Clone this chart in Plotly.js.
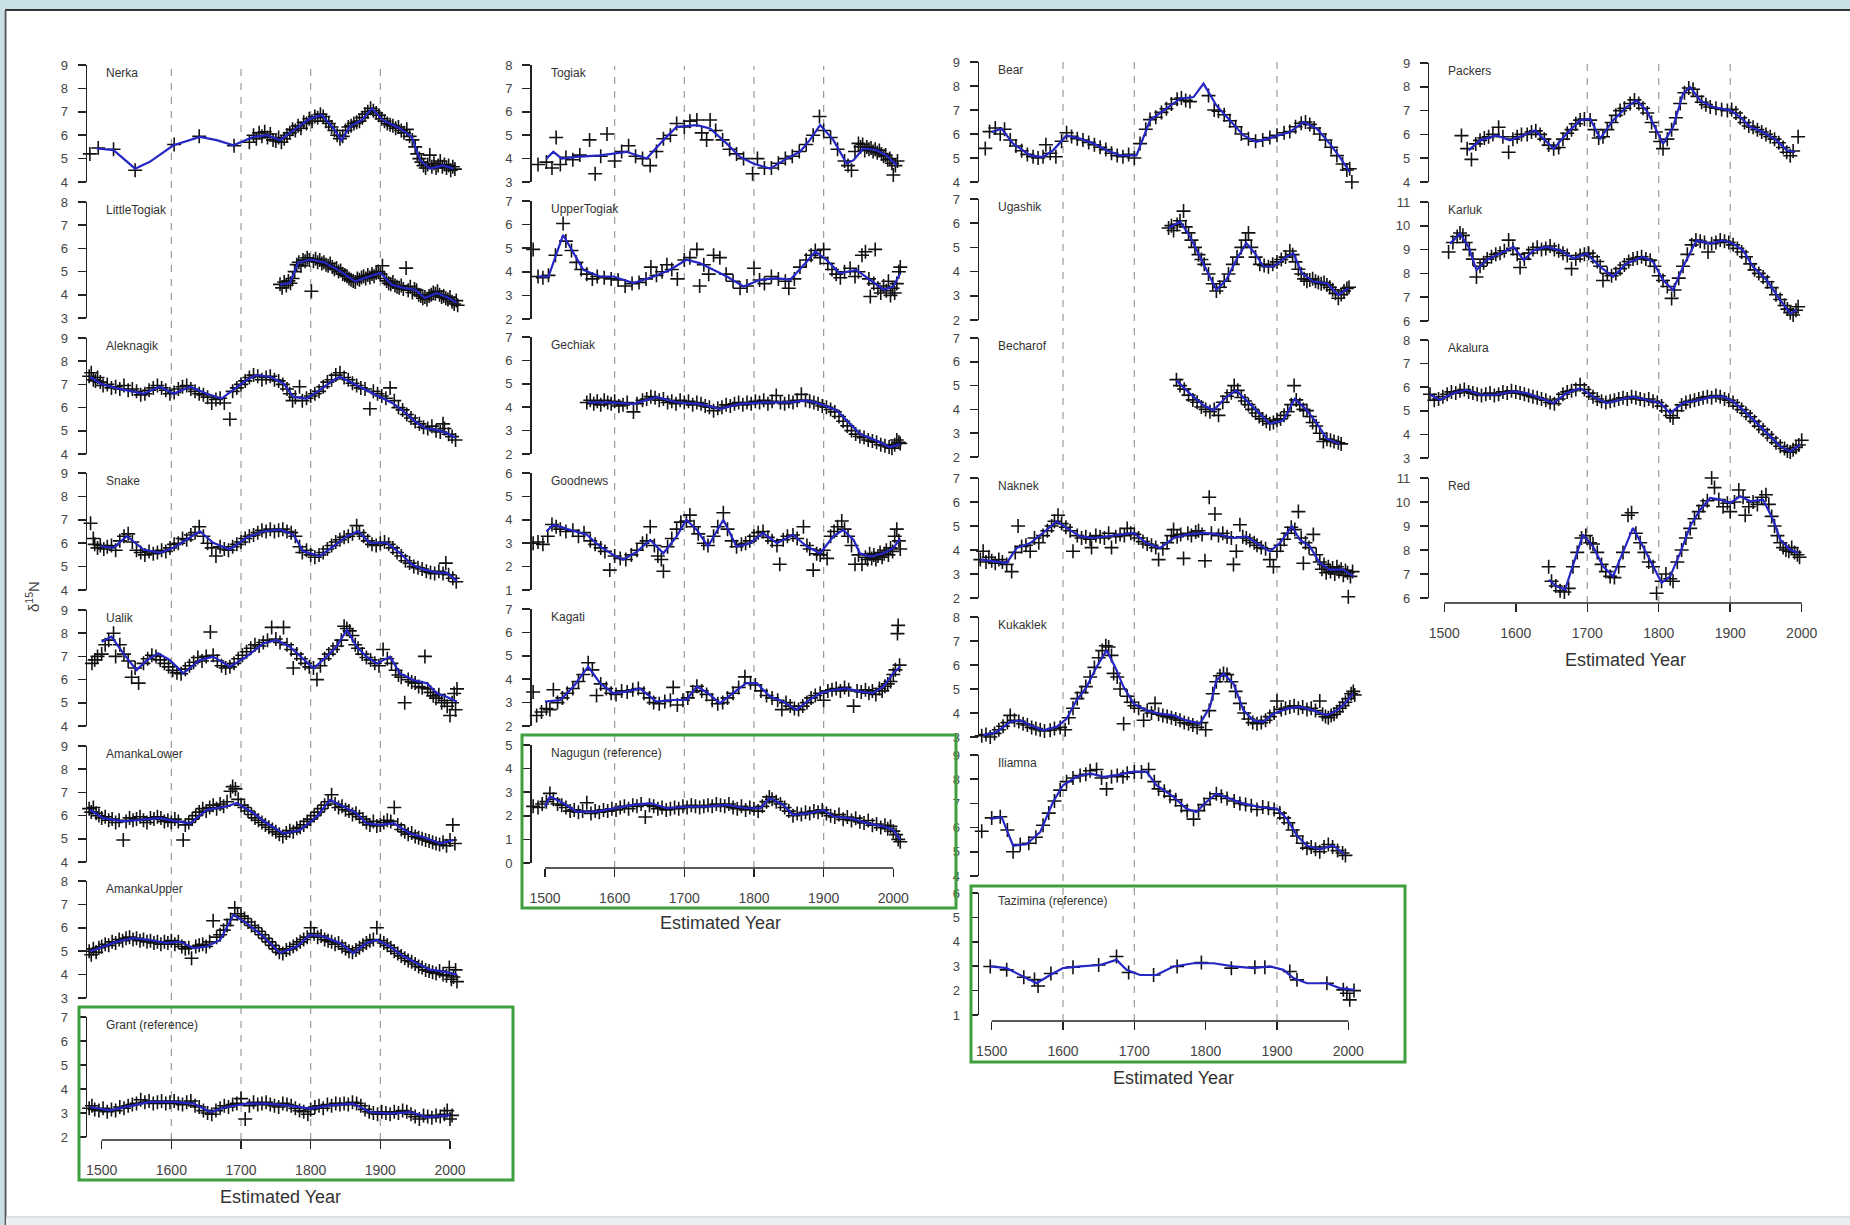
<!DOCTYPE html>
<html><head><meta charset="utf-8">
<script src="https://cdn.plot.ly/plotly-3.0.1.min.js"></script>
<style>html,body{margin:0;padding:0;background:#fff}#chart{width:1850px;height:1225px}</style>
</head><body><div id="chart"></div>
<script>
// ---------------- DATA: smoothed line [year, d15N] and measurements [year, d15N] ----------------
const nerkaLine=[[1493,5.43],[1517,5.36],[1548,4.57],[1569,4.86],[1603,5.57],[1641,5.93],[1665,5.79],[1689,5.57],[1718,5.93],[1737,6.0],[1756,5.79],[1775,6.21],[1799,6.71],[1816,6.86],[1833,6.29],[1844,5.79],[1856,6.36],[1873,6.64],[1888,7.14],[1904,6.64],[1928,6.29],[1945,5.93],[1957,4.93],[1971,4.57],[1990,4.71],[2005,4.57]];
const nerkaPts=[[1483,5.2],[1495,5.45],[1517,5.4],[1548,4.5],[1604,5.6],[1640,5.95],[1690,5.55],[1712,5.7],[1718,6.0],[1722,5.85],[1726,6.1],[1730,5.95],[1734,6.15],[1738,5.9],[1742,6.05],[1746,5.8],[1750,5.75],[1754,5.9],[1758,5.7],[1762,5.85],[1766,6.0],[1770,6.1],[1774,6.25],[1778,6.2],[1782,6.4],[1786,6.3],[1790,6.55],[1794,6.5],[1798,6.7],[1802,6.6],[1806,6.8],[1810,6.75],[1814,6.9],[1818,6.8],[1822,6.6],[1826,6.5],[1830,6.35],[1834,6.2],[1838,6.0],[1842,5.85],[1846,5.95],[1850,6.2],[1854,6.35],[1858,6.4],[1862,6.5],[1866,6.55],[1870,6.6],[1874,6.75],[1878,6.9],[1882,7.0],[1886,7.15],[1890,7.05],[1894,6.95],[1898,6.85],[1902,6.7],[1906,6.6],[1910,6.5],[1914,6.45],[1918,6.4],[1922,6.3],[1926,6.35],[1930,6.2],[1934,6.1],[1938,6.25],[1942,5.95],[1946,5.8],[1950,5.5],[1953,5.2],[1956,5.0],[1959,4.85],[1962,4.7],[1965,4.6],[1968,4.75],[1971,5.15],[1974,4.65],[1977,4.8],[1980,4.6],[1983,4.7],[1986,4.9],[1989,4.65],[1992,4.75],[1995,4.6],[1998,4.7],[2001,4.5],[2004,4.65],[2007,4.55]];
const littleTogiakLine=[[1756,4.44],[1770,4.51],[1782,5.38],[1801,5.52],[1821,5.38],[1842,5.02],[1864,4.58],[1880,4.73],[1900,4.95],[1916,4.44],[1933,4.3],[1950,4.22],[1964,3.86],[1981,4.08],[1998,3.86],[2010,3.65]];
const littleTogiakPts=[[1756,4.45],[1759,4.3],[1762,4.55],[1765,4.4],[1768,4.6],[1771,4.5],[1774,4.7],[1777,5.0],[1780,5.3],[1783,5.4],[1786,5.25],[1789,5.5],[1792,5.45],[1795,5.6],[1798,5.5],[1801,4.15],[1804,5.45],[1807,5.55],[1810,5.4],[1813,5.5],[1816,5.35],[1819,5.4],[1822,5.3],[1825,5.25],[1828,5.35],[1831,5.2],[1834,5.1],[1837,5.15],[1840,5.0],[1843,5.05],[1846,4.9],[1849,4.85],[1852,4.8],[1855,4.7],[1858,4.65],[1861,4.6],[1864,4.55],[1867,4.7],[1870,4.65],[1873,4.75],[1876,4.8],[1879,4.7],[1882,4.85],[1885,4.75],[1888,4.9],[1891,4.8],[1894,4.95],[1897,5.0],[1900,4.9],[1903,5.25],[1906,4.7],[1909,4.6],[1912,4.5],[1915,4.45],[1918,4.55],[1921,4.4],[1924,4.35],[1927,4.3],[1930,4.4],[1933,4.25],[1937,5.15],[1940,4.2],[1943,4.35],[1946,4.1],[1949,4.25],[1952,4.2],[1955,4.0],[1958,3.95],[1961,3.85],[1964,3.9],[1967,3.8],[1970,3.95],[1973,4.0],[1976,4.1],[1979,4.05],[1982,4.15],[1985,4.0],[1988,3.9],[1991,3.95],[1994,3.85],[1997,3.8],[2000,3.9],[2003,3.7],[2006,3.6],[2009,3.75],[2011,3.55]];
const aleknagikLine=[[1483,7.33],[1498,7.04],[1522,6.83],[1560,6.6],[1584,6.9],[1603,6.6],[1627,6.9],[1651,6.6],[1672,6.39],[1689,6.75],[1708,7.19],[1722,7.4],[1742,7.33],[1761,7.04],[1775,6.46],[1794,6.39],[1813,6.75],[1833,7.19],[1842,7.33],[1861,7.04],[1880,6.75],[1900,6.46],[1919,6.17],[1935,5.8],[1950,5.4],[1965,5.1],[1980,5.05],[1995,4.9],[2008,4.7]];
const aleknagikPts=[[1482,7.35],[1485,7.5],[1488,7.2],[1491,7.15],[1494,7.3],[1498,7.1],[1502,6.95],[1508,7.0],[1514,6.85],[1520,6.9],[1526,6.8],[1532,6.95],[1538,6.75],[1544,6.8],[1550,6.7],[1556,6.55],[1562,6.6],[1568,6.75],[1574,6.85],[1580,6.95],[1586,6.85],[1592,6.75],[1598,6.6],[1604,6.65],[1610,6.8],[1616,6.9],[1622,6.95],[1628,6.8],[1634,6.7],[1640,6.6],[1646,6.55],[1652,6.45],[1658,6.2],[1664,6.35],[1670,6.4],[1676,6.2],[1684,5.5],[1688,6.7],[1694,6.85],[1700,7.0],[1706,7.15],[1712,7.3],[1718,7.4],[1724,7.35],[1730,7.2],[1736,7.3],[1742,7.35],[1748,7.2],[1754,7.15],[1760,7.0],[1766,6.8],[1770,6.6],[1774,6.3],[1778,6.45],[1784,6.9],[1788,6.3],[1794,6.4],[1800,6.5],[1806,6.6],[1812,6.7],[1818,6.9],[1824,7.1],[1830,7.2],[1836,7.4],[1842,7.5],[1848,7.3],[1854,7.2],[1860,7.05],[1866,6.95],[1872,6.85],[1878,6.8],[1885,5.95],[1890,6.7],[1896,6.6],[1902,6.5],[1908,6.4],[1914,6.85],[1920,6.3],[1926,6.0],[1932,5.9],[1938,5.7],[1944,5.55],[1950,5.4],[1956,5.3],[1962,5.15],[1968,5.1],[1974,5.2],[1980,5.0],[1986,4.95],[1990,5.3],[1992,5.1],[1998,4.85],[2003,4.75],[2008,4.6]];
const snakeLine=[[1498,5.87],[1517,5.8],[1536,6.3],[1560,5.73],[1584,5.59],[1603,5.8],[1622,6.16],[1641,6.51],[1660,6.02],[1684,5.73],[1708,6.23],[1732,6.51],[1756,6.58],[1775,6.37],[1789,5.66],[1813,5.45],[1833,5.87],[1852,6.3],[1868,6.51],[1885,6.02],[1909,6.02],[1928,5.59],[1945,5.09],[1962,4.88],[1981,4.74],[1995,4.74],[2010,4.38]];
const snakePts=[[1484,6.85],[1488,6.2],[1490,5.95],[1494,5.8],[1498,5.9],[1503,5.75],[1508,5.85],[1514,5.9],[1520,5.7],[1526,6.1],[1532,6.3],[1538,6.4],[1544,6.05],[1550,5.7],[1556,5.6],[1562,5.5],[1568,5.65],[1574,5.55],[1580,5.6],[1586,5.7],[1592,5.65],[1598,5.8],[1604,5.95],[1610,6.0],[1616,6.2],[1622,6.15],[1628,6.35],[1634,6.45],[1640,6.7],[1646,6.3],[1652,6.0],[1658,5.8],[1664,5.45],[1670,5.85],[1676,5.75],[1682,5.7],[1688,5.85],[1694,5.95],[1700,6.05],[1706,6.2],[1712,6.3],[1718,6.35],[1724,6.45],[1730,6.55],[1736,6.5],[1742,6.6],[1748,6.5],[1754,6.55],[1760,6.6],[1766,6.5],[1772,6.45],[1778,6.3],[1784,5.85],[1788,5.6],[1794,5.7],[1800,5.5],[1806,5.4],[1812,5.5],[1818,5.6],[1824,5.75],[1830,5.9],[1836,6.05],[1842,6.15],[1848,6.25],[1854,6.3],[1860,6.4],[1866,6.75],[1870,6.45],[1876,6.3],[1882,6.1],[1888,5.95],[1894,5.9],[1900,6.0],[1906,6.05],[1912,5.95],[1918,5.8],[1924,5.6],[1930,5.45],[1936,5.25],[1942,5.15],[1948,5.0],[1954,4.95],[1960,4.9],[1966,4.8],[1972,4.75],[1978,4.7],[1984,4.8],[1990,4.7],[1994,5.15],[1998,4.65],[2004,4.5],[2009,4.35]];
const ualikLine=[[1500,7.63],[1514,7.85],[1531,7.13],[1550,6.41],[1565,6.84],[1581,7.13],[1598,6.84],[1617,6.27],[1641,6.84],[1660,6.99],[1684,6.56],[1708,6.99],[1732,7.56],[1751,7.71],[1770,7.42],[1785,6.99],[1804,6.49],[1823,6.99],[1837,7.42],[1852,8.14],[1866,7.42],[1880,6.99],[1895,6.7],[1914,6.99],[1928,6.27],[1947,5.98],[1967,5.84],[1981,5.41],[1995,5.26],[2010,5.05]];
const ualikPts=[[1486,6.7],[1490,6.85],[1494,7.0],[1500,7.1],[1505,7.5],[1510,7.7],[1517,8.0],[1520,7.0],[1526,7.5],[1532,7.1],[1538,6.8],[1543,6.1],[1548,6.5],[1553,5.85],[1560,6.7],[1566,6.9],[1572,7.05],[1578,7.0],[1584,6.85],[1590,6.7],[1596,6.55],[1602,6.4],[1608,6.3],[1614,6.25],[1620,6.45],[1626,6.6],[1632,6.75],[1638,6.95],[1644,6.8],[1650,7.0],[1656,8.05],[1660,7.05],[1666,6.8],[1672,6.6],[1678,6.5],[1684,6.55],[1690,6.7],[1696,6.9],[1702,7.05],[1708,7.2],[1714,7.35],[1720,7.5],[1726,7.45],[1732,7.6],[1738,7.7],[1744,8.25],[1750,7.75],[1756,7.6],[1761,8.25],[1766,7.5],[1772,7.3],[1775,6.5],[1780,7.1],[1786,6.9],[1792,6.7],[1798,6.55],[1804,6.5],[1809,6.0],[1814,6.6],[1820,6.9],[1826,7.1],[1832,7.3],[1838,7.45],[1844,7.7],[1848,8.3],[1852,8.2],[1856,8.1],[1860,7.9],[1864,7.5],[1868,7.35],[1874,7.1],[1880,6.95],[1886,6.85],[1892,6.7],[1898,6.6],[1904,7.3],[1910,6.9],[1916,6.7],[1922,6.4],[1926,6.2],[1930,6.1],[1935,5.0],[1940,6.0],[1945,5.9],[1950,5.85],[1955,5.7],[1960,5.65],[1964,7.0],[1968,5.6],[1972,5.45],[1976,5.3],[1980,5.2],[1984,5.35],[1988,5.0],[1992,5.1],[1996,4.85],[2000,4.45],[2003,5.0],[2006,5.4],[2008,4.7],[2010,5.6]];
const amankaLowerLine=[[1483,6.25],[1502,5.89],[1531,5.75],[1560,5.82],[1584,5.89],[1608,5.75],[1627,5.67],[1651,6.25],[1679,6.39],[1694,6.54],[1718,6.1],[1737,5.67],[1761,5.23],[1785,5.38],[1809,5.96],[1828,6.68],[1847,6.39],[1866,6.1],[1880,5.67],[1900,5.6],[1919,5.67],[1943,5.23],[1967,5.02],[1986,4.8],[2005,4.94]];
const amankaLowerPts=[[1482,6.3],[1485,6.15],[1488,6.35],[1492,6.1],[1496,6.0],[1500,5.9],[1505,5.95],[1510,5.8],[1515,5.85],[1520,5.7],[1525,5.8],[1531,4.95],[1535,5.75],[1540,5.9],[1545,5.8],[1550,5.85],[1555,5.95],[1560,5.8],[1565,5.7],[1570,5.9],[1575,5.85],[1580,5.95],[1585,5.9],[1590,5.75],[1595,5.8],[1600,5.7],[1605,5.85],[1610,5.75],[1617,4.95],[1620,5.6],[1625,5.7],[1630,5.85],[1635,6.0],[1640,6.15],[1645,6.3],[1650,6.2],[1655,6.35],[1660,6.45],[1665,6.3],[1670,6.5],[1675,6.4],[1680,6.6],[1685,7.05],[1688,7.25],[1692,7.15],[1696,6.7],[1700,6.45],[1705,6.35],[1710,6.2],[1715,6.05],[1720,5.9],[1725,5.8],[1730,5.7],[1735,5.6],[1740,5.5],[1745,5.4],[1750,5.3],[1755,5.2],[1760,5.1],[1765,5.25],[1770,5.35],[1775,5.3],[1780,5.45],[1785,5.5],[1790,5.6],[1795,5.75],[1800,5.85],[1805,6.0],[1810,6.15],[1815,6.3],[1820,6.45],[1825,6.6],[1830,6.9],[1835,6.5],[1840,6.35],[1845,6.4],[1850,6.25],[1855,6.2],[1860,6.05],[1865,6.1],[1870,5.95],[1875,5.85],[1880,5.7],[1885,5.6],[1890,5.75],[1895,5.55],[1900,5.6],[1905,5.7],[1910,5.8],[1915,5.75],[1920,6.35],[1925,5.6],[1930,5.4],[1935,5.3],[1940,5.2],[1945,5.25],[1950,5.1],[1955,5.05],[1960,5.0],[1965,4.95],[1970,4.9],[1975,4.85],[1980,4.8],[1985,4.75],[1990,4.85],[1995,4.7],[2000,4.95],[2004,5.6],[2007,4.8]];
const amankaUpperLine=[[1483,4.99],[1502,5.2],[1522,5.41],[1545,5.56],[1569,5.48],[1593,5.35],[1612,5.41],[1632,5.13],[1651,5.2],[1670,5.48],[1689,6.55],[1708,6.2],[1732,5.63],[1756,4.92],[1780,5.2],[1799,5.7],[1818,5.63],[1842,5.35],[1861,4.92],[1880,5.35],[1895,5.48],[1914,5.2],[1933,4.78],[1952,4.5],[1971,4.21],[1990,4.14],[2010,4.0]];
const amankaUpperPts=[[1482,5.0],[1485,4.85],[1488,5.1],[1492,4.95],[1496,5.15],[1500,5.2],[1505,5.3],[1510,5.25],[1515,5.4],[1520,5.35],[1525,5.5],[1530,5.45],[1535,5.55],[1540,5.6],[1545,5.5],[1550,5.55],[1555,5.45],[1560,5.5],[1565,5.4],[1570,5.45],[1575,5.35],[1580,5.4],[1585,5.3],[1590,5.4],[1595,5.35],[1600,5.45],[1605,5.3],[1610,5.4],[1615,5.2],[1620,5.1],[1625,5.15],[1629,4.7],[1635,5.2],[1640,5.25],[1645,5.3],[1650,5.2],[1655,5.4],[1660,6.3],[1665,5.6],[1670,5.7],[1675,5.9],[1680,6.1],[1685,6.35],[1691,6.85],[1695,6.6],[1700,6.5],[1705,6.4],[1710,6.25],[1715,6.1],[1720,6.0],[1725,5.85],[1730,5.7],[1735,5.55],[1740,5.4],[1745,5.25],[1750,5.1],[1755,4.95],[1760,4.9],[1765,5.05],[1770,5.1],[1775,5.2],[1780,5.3],[1785,5.4],[1790,5.5],[1795,5.6],[1800,6.0],[1805,5.75],[1810,5.6],[1815,5.65],[1820,5.5],[1825,5.45],[1830,5.4],[1835,5.3],[1840,5.35],[1845,5.2],[1850,5.1],[1855,5.0],[1860,4.95],[1865,5.05],[1870,5.15],[1875,5.25],[1880,5.35],[1885,5.45],[1890,5.5],[1895,6.0],[1900,5.45],[1905,5.35],[1910,5.25],[1915,5.15],[1920,5.0],[1925,4.9],[1930,4.8],[1935,4.7],[1940,4.6],[1945,4.55],[1950,4.45],[1955,4.35],[1960,4.3],[1965,4.2],[1970,4.15],[1975,4.1],[1980,4.05],[1985,4.15],[1990,4.0],[1995,3.95],[1999,4.3],[2002,3.8],[2005,3.9],[2008,4.2],[2010,3.7]];
const grantLine=[[1483,3.25],[1512,3.11],[1545,3.32],[1569,3.46],[1603,3.46],[1632,3.39],[1656,3.04],[1679,3.25],[1708,3.39],[1737,3.39],[1766,3.32],[1799,3.18],[1828,3.32],[1861,3.39],[1885,3.04],[1914,2.97],[1943,3.04],[1967,2.83],[2000,2.9]];
const grantPts=[[1482,3.2],[1486,3.3],[1490,3.15],[1496,3.1],[1502,3.2],[1508,3.05],[1514,3.15],[1520,3.1],[1526,3.25],[1532,3.2],[1538,3.3],[1544,3.35],[1550,3.4],[1556,3.55],[1562,3.45],[1568,3.5],[1574,3.4],[1580,3.45],[1586,3.5],[1592,3.4],[1598,3.45],[1604,3.5],[1610,3.4],[1616,3.35],[1622,3.45],[1628,3.5],[1634,3.3],[1640,3.25],[1646,3.1],[1652,3.0],[1658,2.95],[1664,3.1],[1670,3.2],[1676,3.3],[1682,3.25],[1688,3.35],[1694,3.4],[1700,3.6],[1706,2.75],[1712,3.3],[1718,3.45],[1724,3.35],[1730,3.4],[1736,3.45],[1742,3.35],[1748,3.3],[1754,3.25],[1760,3.4],[1766,3.35],[1772,3.3],[1778,3.2],[1784,3.1],[1790,3.05],[1796,2.95],[1800,3.15],[1806,3.25],[1812,3.3],[1818,3.2],[1824,3.35],[1830,3.3],[1836,3.4],[1842,3.35],[1848,3.4],[1854,3.35],[1860,3.45],[1866,3.4],[1872,3.3],[1878,3.15],[1884,3.05],[1890,3.0],[1896,2.95],[1902,3.05],[1908,3.0],[1914,2.95],[1920,3.05],[1926,3.0],[1932,3.1],[1938,3.05],[1944,2.95],[1950,2.85],[1956,2.75],[1962,2.9],[1968,2.85],[1974,2.8],[1980,2.9],[1986,2.85],[1992,2.95],[1996,3.1],[2000,2.75],[2003,2.9]];
const togiakLine=[[1502,4.0],[1512,4.29],[1524,4.0],[1545,4.07],[1579,4.14],[1617,4.29],[1646,4.0],[1670,4.79],[1689,5.36],[1718,5.43],[1737,5.29],[1761,4.64],[1780,4.07],[1799,3.79],[1823,3.57],[1847,4.0],[1866,4.29],[1880,4.79],[1895,5.43],[1914,4.79],[1933,3.79],[1943,3.93],[1957,4.43],[1976,4.36],[1990,4.14],[2005,3.71]];
const togiakPts=[[1490,3.75],[1502,3.85],[1510,3.6],[1516,4.9],[1522,3.75],[1530,4.05],[1540,3.95],[1550,4.15],[1564,4.8],[1572,3.35],[1580,4.1],[1589,5.05],[1600,3.9],[1610,4.3],[1620,4.55],[1630,4.1],[1640,4.0],[1651,3.7],[1660,4.3],[1670,4.85],[1680,5.0],[1689,5.5],[1700,5.35],[1708,5.6],[1718,5.65],[1725,5.1],[1732,4.8],[1737,5.65],[1745,5.2],[1755,4.8],[1765,4.4],[1775,4.2],[1785,4.0],[1798,3.35],[1805,4.0],[1815,3.6],[1825,3.6],[1835,3.8],[1845,4.0],[1855,4.1],[1865,4.3],[1875,4.6],[1885,5.0],[1894,5.8],[1900,5.2],[1910,4.9],[1920,4.4],[1930,3.9],[1935,3.7],[1940,3.5],[1945,4.3],[1950,4.65],[1953,4.5],[1956,4.6],[1959,4.35],[1962,4.5],[1965,4.4],[1968,4.45],[1971,4.3],[1974,4.4],[1977,4.25],[1980,4.35],[1983,4.2],[1986,4.1],[1989,4.15],[1992,3.95],[1995,4.0],[1998,3.8],[2000,3.3],[2003,3.7],[2006,3.9]];
const upperTogiakLine=[[1490,3.8],[1505,3.8],[1526,5.56],[1541,4.79],[1555,4.08],[1579,3.8],[1598,3.8],[1627,3.52],[1656,3.8],[1679,4.08],[1703,4.51],[1722,4.37],[1742,4.08],[1761,3.8],[1785,3.38],[1809,3.66],[1833,3.73],[1852,3.66],[1876,4.44],[1888,4.86],[1904,4.51],[1923,3.94],[1947,4.08],[1967,3.66],[1986,3.24],[2000,3.38],[2010,3.94]];
const upperTogiakPts=[[1483,4.95],[1490,3.8],[1497,3.75],[1505,3.85],[1515,4.7],[1526,6.05],[1530,5.3],[1538,4.9],[1545,4.4],[1552,4.1],[1560,3.9],[1568,3.7],[1575,3.8],[1585,3.75],[1595,3.7],[1605,3.65],[1615,3.4],[1625,3.5],[1635,3.55],[1645,3.7],[1652,4.2],[1660,3.85],[1668,4.0],[1675,4.3],[1682,4.1],[1690,3.7],[1700,4.5],[1708,4.6],[1718,4.95],[1722,3.4],[1728,4.3],[1735,3.9],[1742,4.7],[1751,4.6],[1760,3.9],[1770,3.6],[1780,3.3],[1790,3.4],[1800,4.15],[1808,3.65],[1815,3.5],[1825,3.8],[1835,3.7],[1845,3.6],[1850,3.3],[1858,3.7],[1866,4.2],[1875,4.5],[1882,4.7],[1888,4.9],[1895,4.6],[1900,4.95],[1906,4.35],[1912,4.1],[1918,3.9],[1924,3.75],[1930,4.0],[1938,4.15],[1945,3.8],[1950,4.0],[1955,4.7],[1960,4.85],[1965,3.7],[1967,2.95],[1972,3.5],[1974,4.95],[1978,3.3],[1982,3.1],[1986,3.4],[1990,3.2],[1993,3.6],[1996,3.0],[1999,3.3],[2002,3.1],[2005,3.5],[2008,4.0],[2010,4.2]];
const gechiakLine=[[1562,4.21],[1589,4.21],[1627,4.14],[1660,4.43],[1689,4.21],[1722,4.14],[1751,3.93],[1780,4.14],[1818,4.21],[1852,4.21],[1876,4.29],[1895,4.14],[1919,3.86],[1933,3.43],[1952,2.86],[1976,2.57],[1995,2.29],[2010,2.43]];
const gechiakPts=[[1560,4.2],[1565,4.3],[1570,4.15],[1575,4.25],[1580,4.1],[1585,4.3],[1590,4.2],[1595,4.15],[1600,4.25],[1606,4.05],[1612,4.1],[1618,4.2],[1627,3.8],[1632,4.15],[1640,4.3],[1646,4.35],[1652,4.45],[1658,4.4],[1664,4.3],[1670,4.35],[1676,4.2],[1682,4.25],[1688,4.15],[1694,4.3],[1700,4.2],[1706,4.25],[1712,4.1],[1718,4.2],[1724,4.15],[1730,4.05],[1736,4.0],[1742,3.85],[1748,3.95],[1754,4.0],[1760,4.1],[1766,4.05],[1772,4.15],[1778,4.2],[1784,4.1],[1790,4.2],[1796,4.15],[1802,4.25],[1808,4.2],[1814,4.3],[1820,4.15],[1826,4.25],[1832,4.5],[1838,4.2],[1844,4.15],[1850,4.25],[1856,4.2],[1862,4.3],[1868,4.55],[1874,4.3],[1880,4.25],[1886,4.2],[1892,4.15],[1898,4.05],[1904,4.0],[1910,3.9],[1916,3.8],[1922,3.6],[1928,3.4],[1934,3.2],[1940,3.0],[1946,2.85],[1952,2.75],[1958,2.7],[1964,2.6],[1970,2.55],[1976,2.5],[1982,2.4],[1988,2.35],[1994,2.3],[1998,2.25],[2002,2.4],[2005,2.6],[2008,2.5],[2010,2.45]];
const goodnewsLine=[[1502,3.5],[1512,3.79],[1536,3.57],[1560,3.36],[1579,2.86],[1598,2.5],[1612,2.29],[1632,2.64],[1651,3.14],[1670,2.57],[1689,3.29],[1703,4.0],[1718,3.57],[1734,2.86],[1756,4.0],[1775,2.86],[1794,3.0],[1813,3.43],[1833,3.0],[1856,3.36],[1876,2.86],[1895,2.57],[1914,3.29],[1928,3.57],[1943,3.14],[1952,2.57],[1967,2.43],[1986,2.57],[2000,2.79],[2010,3.21]];
const goodnewsPts=[[1483,3.0],[1490,3.05],[1497,2.95],[1504,3.3],[1510,3.8],[1516,3.7],[1522,3.6],[1530,3.5],[1540,3.55],[1548,3.3],[1556,3.45],[1565,3.1],[1572,2.95],[1580,2.8],[1586,2.65],[1593,1.85],[1600,2.45],[1608,2.35],[1616,2.3],[1624,2.5],[1632,2.7],[1640,3.0],[1646,3.1],[1651,3.7],[1657,2.9],[1662,2.45],[1667,2.3],[1670,1.8],[1676,2.85],[1682,3.2],[1689,3.6],[1695,3.9],[1703,3.95],[1708,4.2],[1714,3.7],[1720,3.4],[1728,3.0],[1734,2.9],[1742,3.3],[1748,3.7],[1756,4.3],[1762,3.6],[1768,3.1],[1775,2.85],[1782,2.95],[1788,3.0],[1794,3.1],[1800,3.3],[1806,3.45],[1813,3.5],[1820,3.25],[1826,3.1],[1833,2.9],[1837,2.1],[1842,3.15],[1848,3.3],[1856,3.35],[1862,3.2],[1871,3.7],[1876,2.9],[1880,2.75],[1885,1.85],[1890,2.55],[1895,2.5],[1900,2.7],[1905,2.35],[1910,3.3],[1915,3.5],[1920,3.7],[1926,3.95],[1930,3.6],[1935,3.3],[1940,2.9],[1945,2.1],[1950,2.5],[1955,2.1],[1960,2.4],[1963,2.3],[1966,2.55],[1969,2.35],[1972,2.5],[1975,2.3],[1978,2.45],[1981,2.6],[1984,2.4],[1987,2.55],[1990,2.7],[1993,2.5],[1996,2.8],[1999,2.65],[2002,3.3],[2005,3.6],[2008,3.1],[2010,2.75]];
const kagatiLine=[[1500,3.04],[1522,3.11],[1541,3.69],[1562,4.54],[1579,3.83],[1598,3.4],[1617,3.47],[1636,3.61],[1660,3.04],[1684,3.11],[1703,3.11],[1718,3.69],[1734,3.4],[1751,2.97],[1770,3.4],[1789,3.83],[1804,3.83],[1823,3.26],[1842,3.04],[1861,2.69],[1876,3.04],[1895,3.4],[1914,3.54],[1933,3.61],[1952,3.47],[1971,3.4],[1986,3.69],[2000,4.26],[2010,4.54]];
const kagatiPts=[[1483,3.45],[1488,2.45],[1495,2.6],[1502,2.75],[1507,2.7],[1512,3.55],[1518,3.0],[1525,3.2],[1532,3.4],[1540,3.6],[1548,3.9],[1555,4.2],[1562,4.7],[1568,4.4],[1574,3.3],[1580,3.8],[1588,3.6],[1595,3.4],[1602,3.35],[1610,3.5],[1618,3.45],[1626,3.55],[1634,3.6],[1642,3.4],[1650,3.2],[1656,3.0],[1664,2.95],[1672,3.05],[1680,3.1],[1684,3.65],[1690,2.9],[1698,3.1],[1705,3.2],[1712,3.45],[1718,3.7],[1725,3.5],[1732,3.35],[1740,3.1],[1748,2.95],[1755,3.0],[1762,3.2],[1770,3.4],[1778,3.65],[1787,4.1],[1795,3.85],[1802,3.75],[1810,3.5],[1818,3.3],[1826,3.2],[1834,3.1],[1840,2.7],[1846,3.0],[1852,2.85],[1858,2.75],[1864,2.7],[1870,2.85],[1876,3.0],[1882,3.2],[1888,3.3],[1895,3.4],[1900,3.1],[1906,3.5],[1912,3.55],[1918,3.6],[1924,3.5],[1930,3.65],[1936,3.55],[1943,2.85],[1948,3.5],[1954,3.45],[1960,3.55],[1965,3.4],[1970,3.5],[1975,3.35],[1980,3.6],[1984,3.5],[1988,3.7],[1992,3.8],[1996,3.9],[2000,4.2],[2003,4.4],[2006,5.95],[2007,6.3],[2009,4.6]];
const nagugunLine=[[1500,2.39],[1507,2.82],[1526,2.54],[1545,2.18],[1574,2.18],[1598,2.32],[1627,2.46],[1651,2.54],[1675,2.32],[1703,2.39],[1732,2.39],[1761,2.46],[1789,2.32],[1809,2.32],[1823,2.75],[1842,2.46],[1856,2.04],[1880,2.11],[1900,2.25],[1914,1.97],[1938,1.9],[1962,1.69],[1986,1.55],[2000,1.41],[2010,0.99]];
const nagugunPts=[[1483,2.4],[1490,2.35],[1496,2.5],[1502,2.6],[1507,2.95],[1512,2.7],[1518,2.5],[1524,2.45],[1530,2.35],[1536,2.2],[1542,2.25],[1548,2.15],[1554,2.2],[1560,2.55],[1566,2.1],[1572,2.2],[1578,2.15],[1584,2.25],[1590,2.2],[1596,2.3],[1602,2.25],[1608,2.35],[1614,2.4],[1620,2.3],[1626,2.45],[1632,2.4],[1638,2.5],[1644,1.95],[1650,2.45],[1656,2.4],[1662,2.3],[1668,2.35],[1674,2.25],[1680,2.3],[1686,2.35],[1692,2.3],[1698,2.4],[1704,2.35],[1710,2.45],[1716,2.4],[1722,2.35],[1728,2.4],[1734,2.45],[1740,2.4],[1746,2.5],[1752,2.45],[1758,2.4],[1764,2.5],[1770,2.35],[1776,2.3],[1782,2.4],[1788,2.25],[1794,2.35],[1800,2.3],[1806,2.2],[1812,2.4],[1818,2.6],[1822,2.8],[1826,2.7],[1832,2.6],[1838,2.5],[1844,2.35],[1850,2.2],[1856,2.0],[1862,2.1],[1868,2.05],[1874,2.15],[1880,2.1],[1886,2.2],[1892,2.15],[1898,2.25],[1904,2.1],[1910,2.0],[1916,1.95],[1922,2.05],[1928,1.85],[1934,1.95],[1940,1.8],[1946,1.9],[1952,1.75],[1958,1.7],[1964,1.8],[1970,1.6],[1976,1.65],[1982,1.5],[1988,1.6],[1992,1.45],[1996,1.55],[2000,1.35],[2004,1.2],[2007,1.0],[2010,0.9]];
const bearLine=[[1500,6.08],[1514,6.22],[1530,5.6],[1554,5.11],[1572,5.04],[1586,5.32],[1605,5.94],[1624,5.81],[1643,5.6],[1661,5.32],[1680,5.11],[1703,5.11],[1722,6.57],[1745,7.06],[1764,7.47],[1783,7.54],[1797,8.1],[1815,7.19],[1834,6.57],[1853,5.94],[1871,5.67],[1895,5.88],[1918,6.08],[1937,6.5],[1956,6.22],[1974,5.6],[1988,5.04],[2002,4.42]];
const bearPts=[[1491,5.4],[1497,6.1],[1505,6.25],[1512,6.0],[1518,6.2],[1526,5.75],[1534,5.5],[1542,5.3],[1550,5.15],[1558,5.05],[1565,5.0],[1572,5.05],[1576,5.55],[1582,5.2],[1590,5.05],[1598,5.7],[1605,6.05],[1612,5.9],[1620,5.8],[1628,5.75],[1636,5.65],[1644,5.55],[1652,5.45],[1660,5.35],[1668,5.2],[1676,5.1],[1684,5.05],[1692,5.15],[1700,5.0],[1708,5.6],[1716,6.2],[1722,6.6],[1730,6.7],[1738,6.9],[1745,7.05],[1752,7.25],[1760,7.45],[1766,7.5],[1772,7.4],[1778,7.35],[1795,9.05],[1804,7.6],[1812,7.0],[1818,6.95],[1826,6.8],[1834,6.55],[1842,6.3],[1850,6.0],[1860,5.8],[1870,5.7],[1880,5.75],[1890,5.85],[1900,5.95],[1910,6.05],[1918,6.1],[1926,6.3],[1934,6.45],[1940,6.5],[1946,6.4],[1952,6.25],[1960,6.0],[1968,5.75],[1976,5.45],[1984,5.1],[1992,4.75],[1998,4.5],[2002,4.55],[2005,4.0]];
const ugashikLine=[[1748,5.8],[1764,6.07],[1778,5.45],[1792,4.62],[1801,4.07],[1815,3.24],[1829,3.66],[1843,4.49],[1857,5.18],[1869,4.76],[1881,4.21],[1895,4.21],[1914,4.62],[1923,4.76],[1935,3.93],[1951,3.59],[1970,3.52],[1986,3.04],[2000,3.31]];
const ugashikPts=[[1748,5.8],[1752,5.9],[1755,5.7],[1760,5.95],[1764,6.1],[1769,6.5],[1772,5.85],[1776,5.6],[1780,5.3],[1785,5.0],[1790,4.7],[1794,4.5],[1798,4.3],[1804,3.9],[1810,3.5],[1815,3.2],[1820,3.35],[1826,3.6],[1832,3.9],[1838,4.3],[1844,4.6],[1850,5.0],[1856,5.3],[1860,5.6],[1864,5.0],[1870,4.6],[1876,4.3],[1882,4.25],[1888,4.2],[1894,4.3],[1900,4.4],[1906,4.5],[1912,4.6],[1918,4.85],[1922,4.7],[1926,4.4],[1930,4.1],[1934,3.9],[1938,3.7],[1942,3.6],[1946,3.65],[1950,3.7],[1954,3.6],[1958,3.55],[1962,3.5],[1966,3.55],[1970,3.45],[1974,3.35],[1978,3.25],[1982,3.1],[1986,2.9],[1990,3.05],[1994,3.2],[1998,3.3],[2001,3.35]];
const becharofLine=[[1759,5.22],[1778,4.66],[1797,4.17],[1811,3.96],[1829,4.52],[1843,4.8],[1857,4.38],[1876,3.82],[1890,3.4],[1909,3.54],[1925,4.45],[1942,3.96],[1956,3.4],[1970,2.77],[1988,2.56]];
const becharofPts=[[1759,5.25],[1764,5.0],[1770,4.85],[1776,4.6],[1782,4.4],[1788,4.3],[1794,4.1],[1800,4.0],[1806,3.9],[1812,4.0],[1818,3.75],[1824,4.3],[1830,4.55],[1836,4.7],[1840,5.0],[1845,4.8],[1850,4.5],[1855,4.35],[1860,4.2],[1865,4.0],[1870,3.85],[1875,3.7],[1880,3.6],[1885,3.5],[1890,3.4],[1895,3.45],[1900,3.55],[1905,3.6],[1910,3.75],[1915,3.9],[1920,4.2],[1924,5.0],[1927,4.4],[1932,4.2],[1937,4.0],[1942,3.95],[1946,3.7],[1950,3.45],[1955,3.3],[1960,3.0],[1965,2.65],[1970,2.75],[1975,2.7],[1980,2.65],[1986,2.6],[1990,2.55]];
const naknekLine=[[1484,3.6],[1502,3.53],[1521,3.46],[1535,4.08],[1554,4.29],[1572,4.71],[1591,5.19],[1605,4.92],[1624,4.57],[1643,4.5],[1661,4.57],[1680,4.64],[1699,4.71],[1717,4.29],[1736,4.08],[1755,4.5],[1773,4.64],[1797,4.71],[1820,4.64],[1839,4.5],[1857,4.57],[1871,4.29],[1890,3.94],[1904,4.29],[1921,4.99],[1932,4.43],[1946,4.15],[1960,3.46],[1974,3.18],[1993,3.18],[2007,2.9]];
const naknekPts=[[1484,3.6],[1488,3.95],[1492,3.5],[1496,3.7],[1500,3.55],[1505,3.45],[1510,3.6],[1515,3.5],[1521,3.4],[1528,3.1],[1533,3.9],[1537,5.0],[1542,4.15],[1548,4.2],[1554,3.95],[1560,4.5],[1566,4.3],[1572,4.6],[1578,4.8],[1584,5.0],[1588,5.2],[1593,5.45],[1598,5.1],[1604,4.95],[1610,4.8],[1614,3.95],[1620,4.6],[1626,4.5],[1632,4.55],[1638,4.45],[1640,4.1],[1646,4.6],[1652,4.55],[1658,4.5],[1664,4.7],[1668,4.1],[1674,4.55],[1680,4.65],[1686,4.6],[1690,4.9],[1695,4.7],[1700,4.65],[1706,4.5],[1712,4.35],[1718,4.25],[1724,4.2],[1730,4.1],[1734,3.6],[1740,4.05],[1746,4.3],[1752,4.6],[1755,4.85],[1760,4.55],[1765,4.65],[1769,3.65],[1775,4.7],[1780,4.6],[1786,4.75],[1790,4.8],[1795,4.65],[1799,3.55],[1805,6.2],[1808,4.7],[1813,5.5],[1818,4.6],[1824,4.7],[1830,4.55],[1836,4.5],[1839,3.4],[1843,3.95],[1848,5.05],[1852,4.55],[1857,4.5],[1862,4.4],[1868,4.3],[1872,4.2],[1878,4.1],[1884,4.05],[1890,3.6],[1895,3.3],[1900,3.95],[1905,4.2],[1910,4.45],[1915,4.7],[1920,4.95],[1925,4.85],[1930,5.6],[1934,4.5],[1937,3.45],[1940,4.3],[1945,4.1],[1951,4.65],[1955,3.8],[1960,3.5],[1963,3.2],[1966,3.4],[1969,3.05],[1972,3.3],[1975,3.1],[1978,3.25],[1981,3.0],[1984,3.3],[1987,3.1],[1990,3.2],[1993,2.95],[1996,3.15],[1999,3.05],[2000,2.05],[2003,2.9],[2006,3.1]];
const kukaklekLine=[[1488,3.07],[1507,3.21],[1526,3.63],[1540,3.69],[1554,3.49],[1572,3.28],[1591,3.42],[1605,3.76],[1619,4.53],[1633,5.08],[1647,5.92],[1661,6.61],[1673,5.92],[1685,5.08],[1699,4.39],[1717,4.11],[1736,3.97],[1755,3.9],[1773,3.69],[1792,3.56],[1806,4.25],[1815,5.36],[1825,5.64],[1839,5.22],[1853,4.11],[1867,3.69],[1881,3.63],[1895,3.97],[1914,4.18],[1932,4.25],[1951,4.11],[1970,3.9],[1984,4.11],[1995,4.39],[2007,4.81]];
const kukaklekPts=[[1486,3.05],[1492,3.1],[1498,3.0],[1504,3.15],[1510,3.3],[1516,3.45],[1522,3.6],[1526,3.9],[1532,3.7],[1538,3.65],[1544,3.55],[1550,3.5],[1556,3.4],[1562,3.35],[1568,3.3],[1574,3.25],[1582,3.28],[1588,3.35],[1596,3.4],[1603,3.3],[1608,3.8],[1614,4.2],[1620,4.6],[1626,4.85],[1632,5.1],[1638,5.5],[1644,5.9],[1650,6.3],[1655,6.6],[1660,6.8],[1664,6.75],[1668,6.4],[1671,5.65],[1676,5.5],[1680,5.0],[1685,3.55],[1690,4.7],[1695,4.45],[1700,4.3],[1706,4.2],[1713,3.7],[1718,4.1],[1724,4.0],[1729,4.4],[1734,3.95],[1740,3.9],[1746,3.85],[1752,3.8],[1758,3.75],[1764,3.7],[1770,3.6],[1776,3.55],[1782,3.5],[1788,3.4],[1794,3.6],[1800,3.3],[1805,4.1],[1810,4.8],[1815,5.3],[1820,5.55],[1825,5.65],[1830,5.6],[1836,5.3],[1842,4.9],[1848,4.4],[1854,4.0],[1860,3.75],[1866,3.6],[1872,3.55],[1878,3.6],[1884,3.7],[1890,3.85],[1896,4.0],[1900,4.5],[1906,4.15],[1912,4.2],[1918,4.25],[1924,4.3],[1930,4.2],[1936,4.25],[1942,4.15],[1948,4.2],[1954,4.1],[1960,4.5],[1964,3.95],[1968,3.85],[1972,3.8],[1976,3.9],[1980,3.95],[1984,4.05],[1988,4.2],[1992,4.3],[1996,4.45],[2000,4.6],[2004,4.8],[2007,4.9],[2009,4.75]];
const iliamnaLine=[[1498,6.36],[1514,6.43],[1530,5.25],[1549,5.32],[1568,5.81],[1586,7.06],[1600,7.75],[1619,8.1],[1638,8.24],[1657,8.1],[1675,8.17],[1699,8.31],[1717,8.31],[1731,7.75],[1755,7.27],[1773,6.78],[1787,6.64],[1801,7.06],[1815,7.4],[1834,7.2],[1853,6.99],[1876,6.85],[1900,6.78],[1914,6.36],[1928,5.67],[1942,5.25],[1960,5.11],[1979,5.25],[1995,4.9]];
const iliamnaPts=[[1486,5.85],[1500,6.4],[1512,6.45],[1522,5.9],[1530,5.0],[1540,5.3],[1552,5.35],[1562,5.6],[1572,6.1],[1580,6.6],[1588,7.1],[1596,7.55],[1605,7.9],[1614,8.05],[1624,8.15],[1632,8.2],[1638,8.35],[1647,8.4],[1654,8.05],[1661,7.6],[1668,8.1],[1676,8.15],[1684,8.1],[1690,8.25],[1700,8.3],[1710,8.3],[1720,8.4],[1728,7.9],[1734,7.6],[1742,7.5],[1750,7.3],[1758,7.15],[1766,6.9],[1774,6.7],[1783,6.35],[1790,6.7],[1798,6.95],[1806,7.2],[1815,7.4],[1822,7.3],[1830,7.2],[1840,7.1],[1848,7.0],[1856,6.95],[1864,6.9],[1872,6.75],[1880,6.85],[1888,6.8],[1896,6.75],[1904,6.6],[1910,6.4],[1916,6.2],[1922,5.9],[1928,5.65],[1936,5.35],[1942,5.15],[1948,5.2],[1954,5.1],[1960,5.0],[1966,5.2],[1972,5.3],[1978,5.2],[1985,5.05],[1992,4.95],[1996,4.85]];
const taziminaLine=[[1498,2.99],[1521,2.92],[1544,2.58],[1563,2.3],[1582,2.64],[1600,2.92],[1624,2.99],[1652,3.05],[1675,3.26],[1689,2.85],[1708,2.64],[1731,2.64],[1755,2.99],[1783,3.12],[1811,3.12],[1839,2.99],[1867,2.92],[1890,2.99],[1909,2.85],[1923,2.51],[1942,2.3],[1970,2.3],[1988,2.1],[2009,2.03]];
const taziminaPts=[[1498,2.99],[1521,2.85],[1545,2.55],[1560,2.45],[1565,2.19],[1583,2.7],[1614,2.96],[1650,3.05],[1675,3.4],[1692,2.74],[1727,2.64],[1760,2.99],[1794,3.15],[1836,2.92],[1869,2.96],[1883,2.96],[1918,2.78],[1928,2.44],[1970,2.3],[1993,2.03],[1998,1.89],[2002,1.62],[2008,2.0]];
const packersLine=[[1534,5.33],[1550,5.75],[1573,5.96],[1592,5.75],[1611,5.96],[1627,6.17],[1653,5.4],[1671,6.03],[1690,6.59],[1704,6.66],[1718,5.82],[1736,6.59],[1755,7.15],[1769,7.43],[1783,7.01],[1806,5.61],[1820,6.31],[1834,7.71],[1844,7.99],[1858,7.43],[1876,7.15],[1900,7.01],[1914,6.73],[1928,6.31],[1946,6.1],[1965,5.75],[1979,5.33],[1991,5.26]];
const packersPts=[[1524,5.95],[1532,5.4],[1538,4.95],[1544,5.6],[1550,5.75],[1556,5.85],[1562,5.9],[1568,6.0],[1576,6.3],[1582,5.9],[1590,5.25],[1596,5.8],[1602,5.9],[1608,6.0],[1616,6.0],[1622,6.1],[1628,6.15],[1634,6.0],[1640,5.8],[1646,5.55],[1653,5.4],[1660,5.45],[1666,5.8],[1672,6.05],[1678,6.2],[1684,6.45],[1690,6.6],[1696,6.65],[1704,6.6],[1710,6.2],[1716,5.85],[1722,5.9],[1728,6.2],[1734,6.5],[1740,6.8],[1746,7.0],[1752,7.1],[1760,7.3],[1766,7.45],[1772,7.3],[1778,7.1],[1784,6.9],[1790,6.5],[1796,6.1],[1802,5.7],[1806,5.4],[1812,5.8],[1818,6.2],[1824,6.7],[1830,7.3],[1836,7.75],[1842,7.95],[1848,7.9],[1854,7.6],[1860,7.35],[1866,7.25],[1872,7.15],[1880,7.1],[1888,7.05],[1896,7.0],[1902,7.05],[1908,6.9],[1914,6.7],[1920,6.5],[1926,6.35],[1932,6.3],[1938,6.2],[1944,6.1],[1950,6.0],[1956,5.9],[1962,5.8],[1968,5.65],[1974,5.45],[1979,5.25],[1984,5.1],[1988,5.3],[1995,5.9]];
const karlukLine=[[1508,9.25],[1522,9.67],[1534,9.11],[1545,8.14],[1559,8.56],[1578,8.84],[1597,9.11],[1611,8.56],[1625,8.97],[1643,9.11],[1662,8.97],[1681,8.63],[1699,8.84],[1718,8.28],[1736,7.86],[1755,8.42],[1778,8.7],[1792,8.49],[1806,7.72],[1820,7.3],[1834,8.28],[1853,9.39],[1872,9.25],[1890,9.39],[1904,9.25],[1918,8.97],[1932,8.28],[1951,7.72],[1970,6.88],[1984,6.32],[1993,6.46]];
const karlukPts=[[1506,8.9],[1512,9.3],[1518,9.55],[1522,9.7],[1526,9.6],[1530,9.3],[1535,9.0],[1540,8.6],[1545,7.85],[1550,8.3],[1555,8.45],[1560,8.6],[1566,8.7],[1572,8.8],[1578,8.85],[1584,8.95],[1590,9.4],[1596,9.05],[1602,8.8],[1606,8.25],[1612,8.6],[1618,8.85],[1624,9.0],[1630,9.1],[1636,9.0],[1642,9.05],[1648,9.15],[1654,9.0],[1660,8.95],[1666,8.85],[1672,8.75],[1678,8.2],[1684,8.6],[1690,8.75],[1696,8.8],[1702,8.85],[1708,8.7],[1714,8.5],[1718,8.3],[1722,7.7],[1728,8.0],[1734,7.9],[1740,8.0],[1746,8.2],[1752,8.35],[1758,8.5],[1764,8.6],[1770,8.65],[1776,8.7],[1782,8.6],[1788,8.55],[1794,8.3],[1800,7.9],[1806,7.7],[1812,7.45],[1818,6.95],[1822,7.3],[1828,7.8],[1834,8.3],[1840,8.8],[1846,9.2],[1852,9.4],[1858,9.35],[1864,9.3],[1869,8.9],[1874,9.25],[1880,9.3],[1886,9.4],[1892,9.35],[1898,9.3],[1904,9.2],[1910,9.05],[1916,8.9],[1922,8.7],[1928,8.4],[1934,8.15],[1940,8.0],[1946,7.85],[1952,7.65],[1958,7.4],[1964,7.1],[1970,6.9],[1976,6.65],[1980,6.5],[1984,6.35],[1988,6.25],[1992,6.45],[1995,6.6]];
const akaluraLine=[[1480,5.68],[1494,5.47],[1513,5.75],[1531,5.89],[1550,5.68],[1573,5.68],[1597,5.82],[1615,5.75],[1634,5.54],[1653,5.33],[1671,5.75],[1690,5.96],[1708,5.6],[1727,5.33],[1746,5.47],[1764,5.6],[1783,5.47],[1802,5.33],[1816,4.9],[1834,5.33],[1858,5.47],[1876,5.6],[1890,5.6],[1904,5.4],[1923,4.9],[1946,4.2],[1970,3.49],[1984,3.28],[1998,3.56]];
const akaluraPts=[[1480,5.7],[1486,5.45],[1492,5.5],[1498,5.6],[1504,5.7],[1510,5.8],[1516,5.75],[1522,5.85],[1528,5.9],[1534,5.8],[1540,5.75],[1546,5.7],[1552,5.65],[1558,5.7],[1564,5.75],[1570,5.65],[1576,5.7],[1582,5.8],[1588,5.75],[1594,5.85],[1600,5.8],[1606,5.75],[1612,5.7],[1618,5.65],[1624,5.6],[1630,5.55],[1636,5.5],[1642,5.45],[1648,5.35],[1654,5.3],[1660,5.5],[1666,5.7],[1672,5.8],[1678,5.85],[1684,5.9],[1690,6.1],[1696,5.9],[1702,5.75],[1708,5.6],[1714,5.5],[1720,5.4],[1726,5.35],[1732,5.4],[1738,5.45],[1744,5.5],[1750,5.55],[1756,5.5],[1762,5.6],[1768,5.55],[1774,5.5],[1780,5.45],[1786,5.5],[1792,5.4],[1798,5.35],[1804,5.2],[1810,5.0],[1816,4.8],[1820,4.7],[1826,5.0],[1832,5.25],[1838,5.35],[1844,5.4],[1850,5.45],[1856,5.5],[1862,5.55],[1868,5.6],[1874,5.55],[1880,5.65],[1886,5.6],[1892,5.5],[1898,5.45],[1904,5.35],[1910,5.2],[1916,5.05],[1922,4.9],[1928,4.75],[1934,4.55],[1940,4.35],[1946,4.2],[1952,4.0],[1958,3.85],[1964,3.65],[1970,3.5],[1976,3.4],[1980,3.3],[1984,3.25],[1988,3.35],[1992,3.45],[1996,3.55],[2000,3.75]];
const redLine=[[1646,6.76],[1657,6.49],[1669,6.35],[1680,7.32],[1694,8.64],[1708,8.15],[1722,7.32],[1736,6.9],[1750,7.88],[1764,8.92],[1778,8.15],[1792,7.32],[1804,6.63],[1816,6.9],[1830,7.88],[1844,8.99],[1858,9.68],[1872,10.17],[1886,10.1],[1900,9.96],[1914,10.24],[1928,10.03],[1946,10.1],[1960,9.26],[1970,8.43],[1984,8.01],[1995,7.88]];
const redPts=[[1646,7.3],[1650,6.7],[1656,6.5],[1662,6.3],[1668,6.25],[1674,6.4],[1680,7.3],[1686,7.9],[1692,8.5],[1698,8.6],[1704,8.3],[1708,8.25],[1714,7.9],[1720,7.4],[1726,7.1],[1732,6.9],[1738,6.85],[1744,7.3],[1750,7.9],[1757,9.45],[1762,9.55],[1768,8.7],[1774,8.3],[1780,7.9],[1786,7.5],[1792,7.3],[1797,6.2],[1804,6.7],[1810,7.0],[1816,6.8],[1820,6.7],[1826,7.5],[1832,8.0],[1838,8.5],[1844,8.9],[1850,9.3],[1856,9.6],[1862,9.85],[1868,10.05],[1874,11.0],[1878,10.6],[1884,10.1],[1890,9.8],[1896,9.95],[1900,9.6],[1906,10.0],[1912,10.5],[1918,10.2],[1921,9.45],[1926,9.8],[1932,10.0],[1938,9.9],[1944,10.2],[1950,10.3],[1954,9.9],[1958,9.4],[1962,9.0],[1966,8.6],[1970,8.3],[1974,8.1],[1978,8.0],[1982,7.95],[1986,8.1],[1990,7.9],[1994,7.8],[1997,7.7]];

const yearTicks=[1500,1600,1700,1800,1900,2000];

// ---------------- LAYOUT TABLE (pixel geometry of the reference) ----------------
const W=1850,H=1225;
const COLS=[
 {axisX:87,   x1500:101.7, x2000:450,    right:470,  grid:[1600,1700,1800,1900], gTop:66, gBot:1140, xAxisY:1140, titleX:280,  titleY:1197},
 {axisX:531.7,x1500:545,   x2000:893.3,  right:905,  grid:[1600,1700,1800,1900], gTop:66, gBot:868,  xAxisY:868,  titleX:720,  titleY:923},
 {axisX:979,  x1500:991.7, x2000:1348.3, right:1362, grid:[1600,1700,1900],      gTop:62, gBot:1021, xAxisY:1021, titleX:1173, titleY:1078},
 {axisX:1429.3,x1500:1444.3,x2000:1801.7,right:1815, grid:[1700,1800,1900],      gTop:62, gBot:603,  xAxisY:603,  titleX:1625, titleY:660}
];
const panels=[
 {name:'Nerka',col:0,top:65,h:117,lo:4,hi:9,line:nerkaLine,pts:nerkaPts},
 {name:'LittleTogiak',col:0,top:202,h:116,lo:3,hi:8,line:littleTogiakLine,pts:littleTogiakPts},
 {name:'Aleknagik',col:0,top:338,h:116,lo:4,hi:9,line:aleknagikLine,pts:aleknagikPts},
 {name:'Snake',col:0,top:473,h:117,lo:4,hi:9,line:snakeLine,pts:snakePts},
 {name:'Ualik',col:0,top:610,h:116,lo:4,hi:9,line:ualikLine,pts:ualikPts},
 {name:'AmankaLower',col:0,top:746,h:116,lo:4,hi:9,line:amankaLowerLine,pts:amankaLowerPts},
 {name:'AmankaUpper',col:0,top:881,h:117,lo:3,hi:8,line:amankaUpperLine,pts:amankaUpperPts},
 {name:'Grant (reference)',col:0,top:1017,h:120,lo:2,hi:7,line:grantLine,pts:grantPts,bottom:true},
 {name:'Togiak',col:1,top:65,h:117,lo:3,hi:8,line:togiakLine,pts:togiakPts},
 {name:'UpperTogiak',col:1,top:201,h:118,lo:2,hi:7,line:upperTogiakLine,pts:upperTogiakPts},
 {name:'Gechiak',col:1,top:337,h:117,lo:2,hi:7,line:gechiakLine,pts:gechiakPts},
 {name:'Goodnews',col:1,top:473,h:117,lo:1,hi:6,line:goodnewsLine,pts:goodnewsPts},
 {name:'Kagati',col:1,top:609,h:117,lo:2,hi:7,line:kagatiLine,pts:kagatiPts},
 {name:'Nagugun (reference)',col:1,top:745,h:118,lo:0,hi:5,line:nagugunLine,pts:nagugunPts,bottom:true},
 {name:'Bear',col:2,top:62,h:120,lo:4,hi:9,line:bearLine,pts:bearPts},
 {name:'Ugashik',col:2,top:199,h:121,lo:2,hi:7,line:ugashikLine,pts:ugashikPts},
 {name:'Becharof',col:2,top:338,h:119,lo:2,hi:7,line:becharofLine,pts:becharofPts},
 {name:'Naknek',col:2,top:478,h:120,lo:2,hi:7,line:naknekLine,pts:naknekPts},
 {name:'Kukaklek',col:2,top:617,h:120,lo:3,hi:8,line:kukaklekLine,pts:kukaklekPts},
 {name:'Iliamna',col:2,top:755,h:121,lo:4,hi:9,line:iliamnaLine,pts:iliamnaPts},
 {name:'Tazimina (reference)',col:2,top:893,h:122,lo:1,hi:6,line:taziminaLine,pts:taziminaPts,bottom:true},
 {name:'Packers',col:3,top:63,h:119,lo:4,hi:9,line:packersLine,pts:packersPts},
 {name:'Karluk',col:3,top:202,h:119,lo:6,hi:11,line:karlukLine,pts:karlukPts},
 {name:'Akalura',col:3,top:340,h:118,lo:3,hi:8,line:akaluraLine,pts:akaluraPts},
 {name:'Red',col:3,top:478,h:120,lo:6,hi:11,line:redLine,pts:redPts,bottom:true}
];

const FONT='"Liberation Sans", Arial, sans-serif';
const layout={width:W,height:H,margin:{l:0,r:0,t:0,b:0},paper_bgcolor:'#ffffff',plot_bgcolor:'rgba(0,0,0,0)',
  showlegend:false,font:{family:FONT,color:'#333'},shapes:[],annotations:[]};
const traces=[];
const px=v=>v/W, py=v=>1-v/H;
const firstAxisOfCol={};

panels.forEach((p,i)=>{
  const n=i+1, sfx=(n===1?'':String(n));
  const c=COLS[p.col];
  const slope=(c.x2000-c.x1500)/500;
  const xmin=1500+(c.axisX-c.x1500)/slope, xmax=1500+(c.right-c.x1500)/slope;
  if(!(p.col in firstAxisOfCol)) firstAxisOfCol[p.col]='x'+sfx;
  const ticks=[]; for(let v=p.lo; v<=p.hi; v++) ticks.push(v);
  const xa={domain:[px(c.axisX),px(c.right)],range:[xmin,xmax],anchor:'y'+sfx,showgrid:false,zeroline:false,
            showline:false,showticklabels:false,ticks:'',fixedrange:true};
  if(p.bottom){
    Object.assign(xa,{anchor:'free',position:py(c.xAxisY),tickvals:yearTicks,ticktext:yearTicks.map(String),
      showticklabels:true,ticks:'outside',ticklen:8,tickwidth:1.5,tickcolor:'#222',ticklabelstandoff:9,
      tickfont:{size:14,color:'#444',family:FONT}});
    layout.shapes.push({type:'line',xref:'x'+sfx,yref:'paper',x0:1500,x1:2000,y0:py(c.xAxisY),y1:py(c.xAxisY),
      line:{color:'#222',width:1.5},layer:'above'});
  }
  layout['xaxis'+sfx]=xa;
  layout['yaxis'+sfx]={domain:[py(p.top+p.h),py(p.top)],range:[p.lo-0.0005,p.hi+0.0005],anchor:'x'+sfx,
    tickvals:ticks,ticktext:ticks.map(String),showgrid:false,zeroline:false,showline:true,linecolor:'#222',linewidth:1.5,
    ticks:'outside',ticklen:8,tickwidth:1.5,tickcolor:'#222',ticklabelstandoff:7,
    tickfont:{size:13,color:'#444',family:FONT},fixedrange:true};
  traces.push({type:'scatter',mode:'markers',x:p.pts.map(d=>d[0]),y:p.pts.map(d=>d[1]),xaxis:'x'+sfx,yaxis:'y'+sfx,
    cliponaxis:false,hoverinfo:'skip',marker:{symbol:'cross-thin',size:10,color:'#111',line:{width:1.6,color:'#111'}}});
  traces.push({type:'scatter',mode:'lines',x:p.line.map(d=>d[0]),y:p.line.map(d=>d[1]),xaxis:'x'+sfx,yaxis:'y'+sfx,
    cliponaxis:false,hoverinfo:'skip',line:{color:'#2626c4',width:2.2}});
  layout.annotations.push({xref:'paper',yref:'paper',x:px(c.axisX+17),y:py(p.top+8),xanchor:'left',yanchor:'middle',
    text:p.name,showarrow:false,font:{size:12,color:'#333',family:FONT}});
});

// dashed vertical reference lines through each column, and column x titles
COLS.forEach((c,ci)=>{
  c.grid.forEach(g=>layout.shapes.push({type:'line',xref:firstAxisOfCol[ci],yref:'paper',x0:g,x1:g,
    y0:py(c.gBot),y1:py(c.gTop),line:{color:'#9a9a9a',width:1.2,dash:'7px,7px'},layer:'below'}));
  layout.annotations.push({xref:'paper',yref:'paper',x:px(c.titleX),y:py(c.titleY),xanchor:'center',yanchor:'middle',
    text:'Estimated Year',showarrow:false,font:{size:18,color:'#333',family:FONT}});
});

// green frames around reference lakes
[[79,1007,513,1180],[522,735,956,908],[971,886,1405,1062]].forEach(r=>layout.shapes.push({type:'rect',xref:'paper',yref:'paper',
  x0:px(r[0]),x1:px(r[2]),y0:py(r[3]),y1:py(r[1]),line:{color:'#3f9f3f',width:3},layer:'above'}));

// outer frame of the picture
layout.shapes.push({type:'rect',xref:'paper',yref:'paper',x0:0,x1:1,y0:py(9),y1:1,fillcolor:'#c7dfe5',line:{width:0},layer:'above'});
layout.shapes.push({type:'rect',xref:'paper',yref:'paper',x0:0,x1:px(4),y0:0,y1:1,fillcolor:'#c7dfe5',line:{width:0},layer:'above'});
layout.shapes.push({type:'line',xref:'paper',yref:'paper',x0:px(5),x1:1,y0:py(10),y1:py(10),line:{color:'#333',width:2},layer:'above'});
layout.shapes.push({type:'line',xref:'paper',yref:'paper',x0:px(5.5),x1:px(5.5),y0:0,y1:py(10),line:{color:'#555',width:2},layer:'above'});
layout.shapes.push({type:'rect',xref:'paper',yref:'paper',x0:px(6),x1:1,y0:0,y1:py(1218),fillcolor:'#e9eff1',line:{width:0},layer:'above'});
layout.shapes.push({type:'line',xref:'paper',yref:'paper',x0:px(6),x1:1,y0:py(1217),y1:py(1217),line:{color:'#cfd7da',width:1.5},layer:'above'});

// y-axis label
layout.annotations.push({xref:'paper',yref:'paper',x:px(32),y:py(597),text:'δ<sup>15</sup>N',textangle:-90,showarrow:false,
  xanchor:'center',yanchor:'middle',font:{size:15,color:'#444',family:FONT}});

Plotly.newPlot('chart',traces,layout,{staticPlot:true,displayModeBar:false});
</script></body></html>
